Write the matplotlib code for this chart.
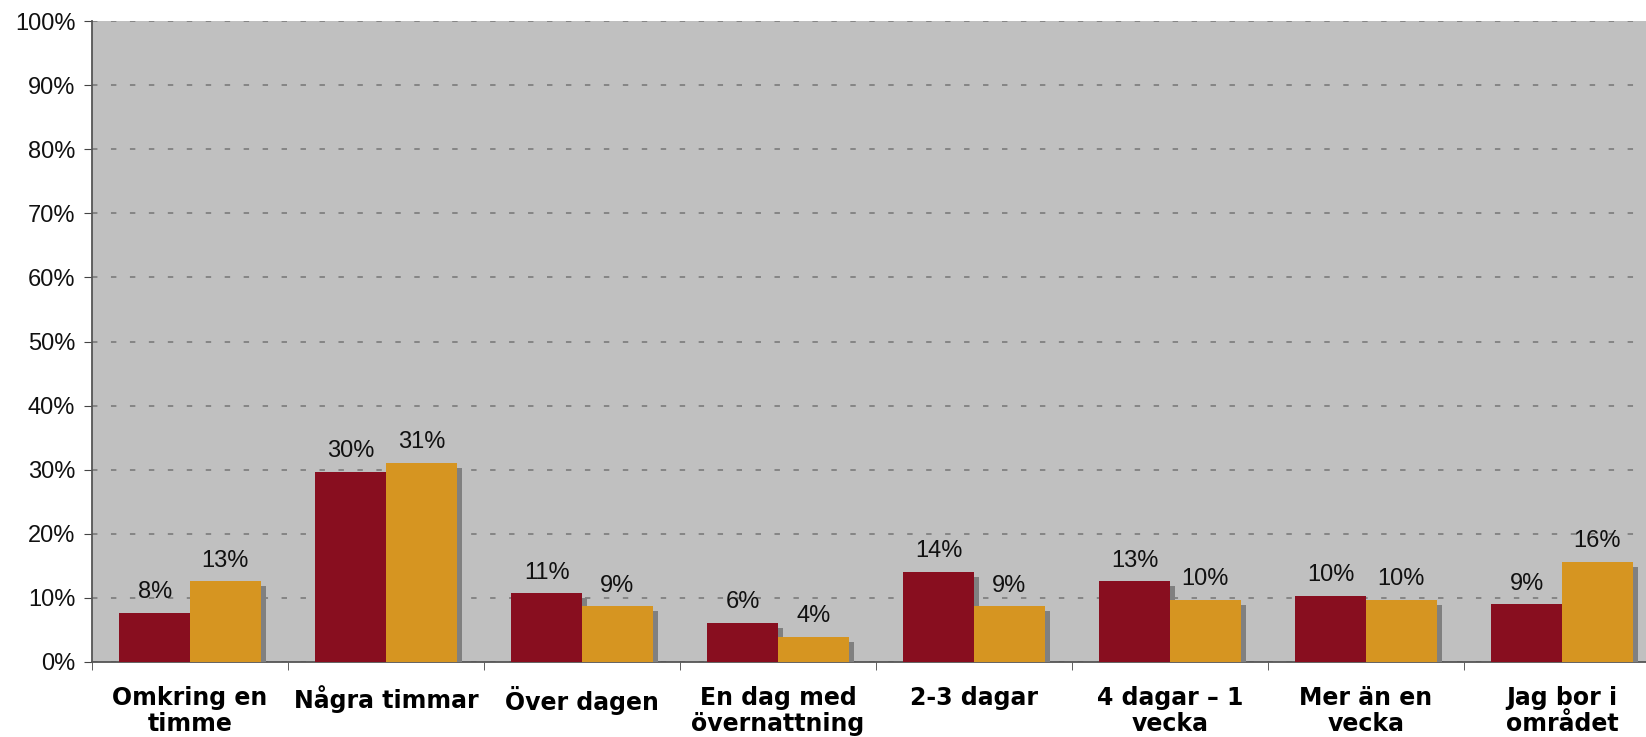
import numpy as np
import matplotlib.pyplot as plt
from matplotlib.ticker import FixedLocator

# Kategorier och värden (andel i procent)
kategorier = ['Omkring en\ntimme', 'Några timmar', 'Över dagen', 'En dag med\növernattning',
              '2-3 dagar', '4 dagar – 1\nvecka', 'Mer än en\nvecka', 'Jag bor i\nområdet']
serie_1 = [7.7, 29.7, 10.7, 6.1, 14.1, 12.6, 10.3, 9.0]
serie_2 = [12.6, 31.1, 8.7, 3.9, 8.7, 9.7, 9.7, 15.6]
etiketter_1 = ['8%', '30%', '11%', '6%', '14%', '13%', '10%', '9%']
etiketter_2 = ['13%', '31%', '9%', '4%', '9%', '10%', '10%', '16%']

rod = '#880E1F'
orange = '#D69521'
skugga = '#808080'

plt.rcParams['font.family'] = ['Liberation Sans', 'DejaVu Sans']

fig = plt.figure(figsize=(16.46, 7.37), dpi=100)
# axeln fortsätter lite utanför bildens högra kant, som i originalet
ax = fig.add_axes([92 / 1646, 1 - 662 / 737, 1568 / 1646, 641 / 737])
ax.set_facecolor('#C0C0C0')

x = np.arange(len(kategorier))
bredd = 0.36
dx = 5 / 196        # skuggans förskjutning i x
dy = 5 / 6.41       # skuggans förskjutning i y

s1 = np.array(serie_1)
s2 = np.array(serie_2)

ax.bar(x - bredd / 2 + dx, s1 - dy, bredd, color=skugga, zorder=2)
ax.bar(x - bredd / 2, s1, bredd, color=rod, zorder=3)
ax.bar(x + bredd / 2 + dx, s2 - dy, bredd, color=skugga, zorder=4)
ax.bar(x + bredd / 2, s2, bredd, color=orange, zorder=5)

for i in range(len(kategorier)):
    ax.text(x[i] - bredd / 2, s1[i] + 1.5, etiketter_1[i], ha='center', va='bottom',
            fontsize=17, color='#111111', zorder=6)
    ax.text(x[i] + bredd / 2, s2[i] + 1.5, etiketter_2[i], ha='center', va='bottom',
            fontsize=17, color='#111111', zorder=6)

ax.set_xlim(-0.5, len(kategorier) - 0.5)
ax.set_ylim(0, 100)
ax.set_yticks(np.arange(0, 101, 10))
ax.set_yticklabels([f'{v}%' for v in range(0, 101, 10)], fontsize=17, color='#111111')
ax.yaxis.grid(True, linestyle=(0, (3, 7.5)), color='#808080', linewidth=1.3, zorder=1)
ax.set_axisbelow(True)

ax.set_xticks(x)
ax.set_xticklabels(kategorier, fontsize=17, fontweight='bold', linespacing=1.1,
                   family='DejaVu Sans')
ax.xaxis.set_minor_locator(FixedLocator(np.arange(-0.5, len(kategorier), 1)))
ax.tick_params(axis='x', which='major', length=0, pad=17)
ax.tick_params(axis='x', which='minor', length=6, color='#444444', direction='out')
ax.tick_params(axis='y', length=6, color='#444444', direction='out', pad=6)

for side in ['top', 'right']:
    ax.spines[side].set_visible(False)
ax.spines['left'].set_color('#555555')
ax.spines['bottom'].set_color('#555555')
ax.spines['left'].set_linewidth(1.3)
ax.spines['bottom'].set_linewidth(1.3)

fig.savefig('out.png', dpi=100)
plt.close()
